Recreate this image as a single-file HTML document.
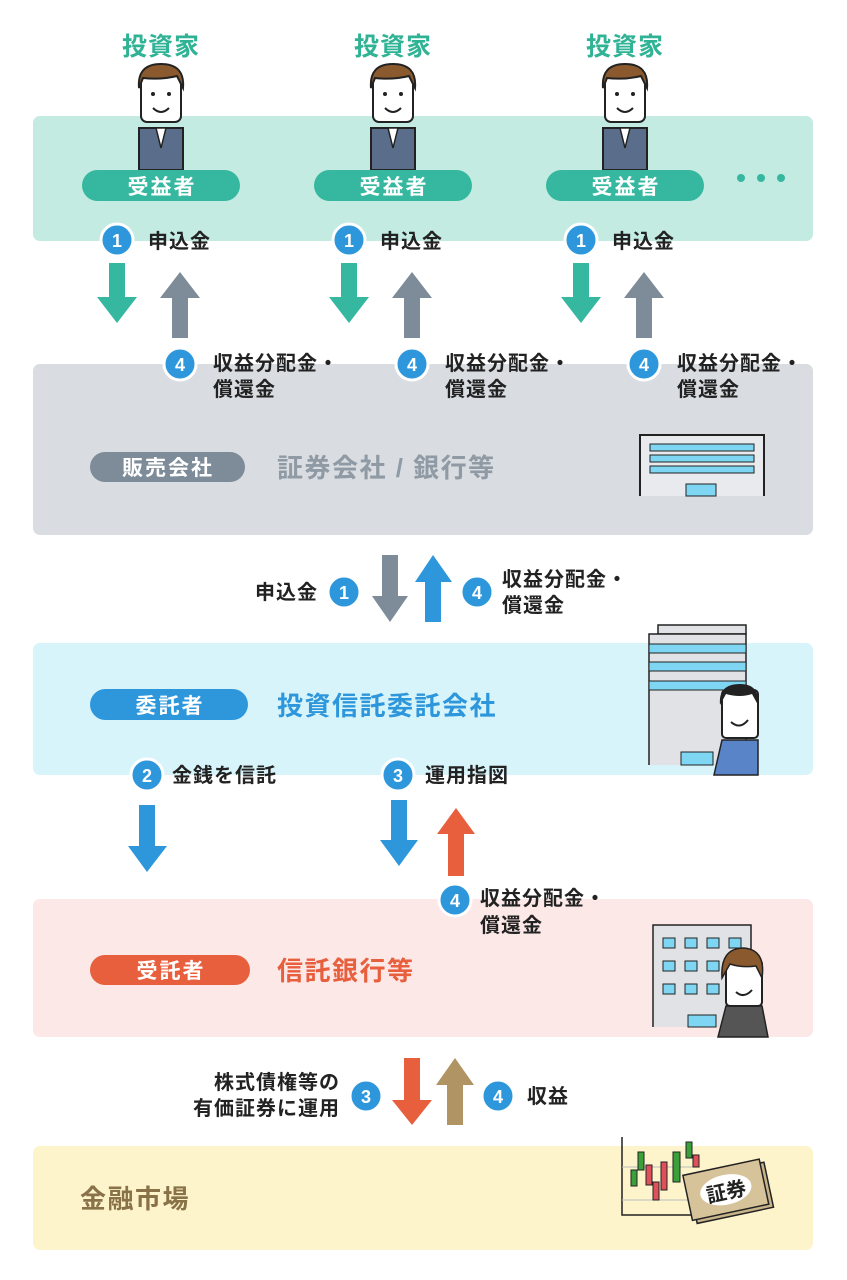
<!DOCTYPE html>
<html><head><meta charset="utf-8"><style>
html,body{margin:0;padding:0;background:#fff;}
svg{display:block;font-family:"Liberation Sans","Noto Sans CJK JP",sans-serif;font-weight:bold;}
.lb{font-size:20px;fill:#222;letter-spacing:1px;}
.big{font-size:26px;letter-spacing:1.5px;}
.hd{font-size:25px;letter-spacing:1px;}
.pill{font-size:21px;fill:#fff;letter-spacing:2px;}
</style></head><body>
<svg width="847" height="1280" viewBox="0 0 847 1280" xmlns="http://www.w3.org/2000/svg">
<defs>
<g id="c"><circle r="16" fill="#2e97dc" stroke="#fff" stroke-width="3"/></g>
<g id="person">
  <rect x="-22" y="58" width="44" height="42" fill="#5a6e8c" stroke="#222" stroke-width="2"/>
  <polygon points="-5,58 5,58 0,78" fill="#fff" stroke="#222" stroke-width="1.5"/>
  <rect x="-20" y="0" width="40" height="52" rx="6" fill="#fff" stroke="#222" stroke-width="2"/>
  <path d="M-22,18 Q-24,-6 0,-6 Q24,-6 22,18 L16,6 Q0,10 -18,8 Z" fill="#8a5a2e" stroke="#222" stroke-width="2"/>
  <circle cx="-8" cy="24" r="2" fill="#222"/><circle cx="8" cy="24" r="2" fill="#222"/>
  <path d="M-8,38 Q0,46 8,38" fill="none" stroke="#222" stroke-width="2"/>
</g>
</defs>

<g fill="#2fb394" class="hd" text-anchor="middle">
<text x="161" y="55">投資家</text><text x="393" y="55">投資家</text><text x="625" y="55">投資家</text>
</g>

<rect x="33" y="116" width="780" height="125" rx="7" fill="#c3ebe2"/>
<use href="#person" x="161" y="70"/>
<use href="#person" x="393" y="70"/>
<use href="#person" x="625" y="70"/>
<g fill="#35b89f">
<rect x="82" y="170" width="158" height="31" rx="15.5"/>
<rect x="314" y="170" width="158" height="31" rx="15.5"/>
<rect x="546" y="170" width="158" height="31" rx="15.5"/>
<circle cx="741" cy="178" r="4"/><circle cx="761" cy="178" r="4"/><circle cx="781" cy="178" r="4"/>
</g>
<g class="pill" text-anchor="middle">
<text x="162" y="194">受益者</text><text x="394" y="194">受益者</text><text x="626" y="194">受益者</text>
</g>

<g id="col">
<use href="#c" x="117" y="240"/>
<text x="117" y="247" fill="#fff" font-size="18" text-anchor="middle" font-family="Liberation Sans">1</text>
<text x="148" y="248" class="lb">申込金</text>
<path d="M109,263 H125 V297 H137 L117,323 L97,297 H109 Z" fill="#35b89f"/>
<path d="M172,338 V298 H160 L180,272 L200,298 H188 V338 Z" fill="#7d8c98"/>
</g>
<use href="#col" x="232"/>
<use href="#col" x="464"/>

<rect x="33" y="364" width="780" height="171" rx="7" fill="#d9dde1"/>
<g id="col4">
<use href="#c" x="180" y="364"/>
<text x="180" y="371" fill="#fff" font-size="18" text-anchor="middle" font-family="Liberation Sans">4</text>
<text x="213" y="370" class="lb">収益分配金・</text>
<text x="213" y="396" class="lb">償還金</text>
</g>
<use href="#col4" x="232"/>
<use href="#col4" x="464"/>

<rect x="90" y="452" width="155" height="30" rx="15" fill="#7d8c98"/>
<text x="168" y="475" class="pill" text-anchor="middle">販売会社</text>
<text x="277" y="477" fill="#8f9aa4" class="big">証券会社 / 銀行等</text>
<path d="M640,496 V435 H764 V496" fill="#e8eaed" stroke="#222" stroke-width="2"/>
<g fill="#7fd6f2" stroke="#222" stroke-width="1">
<rect x="650" y="444" width="104" height="7"/><rect x="650" y="455" width="104" height="7"/><rect x="650" y="466" width="104" height="7"/><rect x="686" y="484" width="30" height="12"/>
</g>

<text x="318" y="599" class="lb" text-anchor="end">申込金</text>
<use href="#c" x="344" y="592"/>
<text x="344" y="599" fill="#fff" font-size="18" text-anchor="middle" font-family="Liberation Sans">1</text>
<path d="M382,555 H398 V596 H408 L390,622 L372,596 H382 Z" fill="#7d8c98"/>
<path d="M425,622 V582 H415 L433,555 L452,582 H441 V622 Z" fill="#2e97dc"/>
<use href="#c" x="477" y="592"/>
<text x="477" y="599" fill="#fff" font-size="18" text-anchor="middle" font-family="Liberation Sans">4</text>
<text x="502" y="586" class="lb">収益分配金・</text>
<text x="502" y="612" class="lb">償還金</text>

<rect x="33" y="643" width="780" height="132" rx="7" fill="#d8f4fb"/>
<rect x="90" y="689" width="158" height="31" rx="15.5" fill="#2e97dc"/>
<text x="170" y="713" class="pill" text-anchor="middle">委託者</text>
<text x="277" y="715" fill="#2e97dc" class="big">投資信託委託会社</text>
<rect x="658" y="625" width="88" height="9" fill="#e0e2e5" stroke="#222" stroke-width="1.5"/>
<path d="M649,765 V634 H746 V765" fill="#e0e2e5" stroke="#222" stroke-width="1.5"/>
<g fill="#7fd6f2" stroke="#222" stroke-width="1">
<rect x="649" y="644" width="97" height="9"/><rect x="649" y="662" width="97" height="9"/><rect x="649" y="681" width="97" height="9"/><rect x="681" y="752" width="32" height="13"/>
</g>
<path d="M714,775 L722,740 H758 V775 Z" fill="#5a84c8" stroke="#222" stroke-width="1.5"/>
<rect x="722" y="690" width="36" height="48" rx="4" fill="#fff" stroke="#222" stroke-width="2"/>
<path d="M720,705 Q718,684 740,684 Q760,684 758,705 L752,694 Q740,698 726,694 Z" fill="#222"/>
<path d="M731,722 Q740,730 748,720" fill="none" stroke="#222" stroke-width="2"/>

<use href="#c" x="147" y="775"/>
<text x="147" y="782" fill="#fff" font-size="18" text-anchor="middle" font-family="Liberation Sans">2</text>
<text x="172" y="782" class="lb">金銭を信託</text>
<use href="#c" x="398" y="775"/>
<text x="398" y="782" fill="#fff" font-size="18" text-anchor="middle" font-family="Liberation Sans">3</text>
<text x="425" y="782" class="lb">運用指図</text>
<path d="M139,805 H155 V846 H167 L147,872 L128,846 H139 Z" fill="#2e97dc"/>
<path d="M391,800 H407 V840 H418 L399,866 L380,840 H391 Z" fill="#2e97dc"/>
<path d="M448,876 V834 H437 L456,808 L475,834 H464 V876 Z" fill="#e85f3e"/>

<rect x="33" y="899" width="780" height="138" rx="7" fill="#fde8e8"/>
<use href="#c" x="455" y="900"/>
<text x="455" y="907" fill="#fff" font-size="18" text-anchor="middle" font-family="Liberation Sans">4</text>
<text x="480" y="905" class="lb">収益分配金・</text>
<text x="480" y="932" class="lb">償還金</text>
<rect x="90" y="955" width="160" height="30" rx="15" fill="#e85f3e"/>
<text x="171" y="978" class="pill" text-anchor="middle">受託者</text>
<text x="277" y="980" fill="#e85f3e" class="big">信託銀行等</text>
<path d="M653,1027 V925 H751 V1027" fill="#e0e2e5" stroke="#222" stroke-width="1.5"/>
<g fill="#7fd6f2" stroke="#222" stroke-width="1">
<rect x="663" y="938" width="12" height="10"/><rect x="685" y="938" width="12" height="10"/><rect x="707" y="938" width="12" height="10"/><rect x="729" y="938" width="12" height="10"/>
<rect x="663" y="961" width="12" height="10"/><rect x="685" y="961" width="12" height="10"/><rect x="707" y="961" width="12" height="10"/>
<rect x="663" y="984" width="12" height="10"/><rect x="685" y="984" width="12" height="10"/><rect x="707" y="984" width="12" height="10"/>
<rect x="688" y="1015" width="28" height="12"/>
</g>
<path d="M718,1037 L726,1006 H762 L768,1037 Z" fill="#555" stroke="#222" stroke-width="1.5"/>
<rect x="726" y="960" width="36" height="46" rx="4" fill="#fff" stroke="#222" stroke-width="2"/>
<path d="M722,978 Q720,948 744,948 Q766,950 762,978 L756,966 Q742,968 730,964 Z" fill="#8a5a2e" stroke="#222" stroke-width="1.5"/>
<path d="M736,992 Q744,999 752,990" fill="none" stroke="#222" stroke-width="2"/>

<text x="340" y="1089" class="lb" text-anchor="end">株式債権等の</text>
<text x="340" y="1115" class="lb" text-anchor="end">有価証券に運用</text>
<use href="#c" x="366" y="1096"/>
<text x="366" y="1103" fill="#fff" font-size="18" text-anchor="middle" font-family="Liberation Sans">3</text>
<path d="M404,1058 H420 V1100 H432 L412,1125 L392,1100 H404 Z" fill="#e85f3e"/>
<path d="M447,1125 V1085 H436 L455,1058 L474,1085 H463 V1125 Z" fill="#b09463"/>
<use href="#c" x="498" y="1096"/>
<text x="498" y="1103" fill="#fff" font-size="18" text-anchor="middle" font-family="Liberation Sans">4</text>
<text x="527" y="1103" class="lb">収益</text>

<rect x="33" y="1146" width="780" height="104" rx="7" fill="#fdf4cc"/>
<text x="80" y="1208" fill="#8a7248" class="big">金融市場</text>
<path d="M622,1137 V1215 H700" fill="none" stroke="#222" stroke-width="1.5"/>
<line x1="622" y1="1167" x2="700" y2="1167" stroke="#bbb"/><line x1="622" y1="1200" x2="700" y2="1200" stroke="#bbb"/>
<g stroke="#222" stroke-width="1">
<rect x="631" y="1170" width="6" height="16" fill="#3aa13a"/><rect x="638" y="1152" width="6" height="18" fill="#3aa13a"/>
<rect x="646" y="1165" width="6" height="20" fill="#e0505a"/><rect x="653" y="1182" width="6" height="18" fill="#e0505a"/>
<rect x="661" y="1162" width="6" height="28" fill="#e0505a"/><rect x="673" y="1152" width="7" height="30" fill="#3aa13a"/>
<rect x="686" y="1142" width="6" height="16" fill="#3aa13a"/><rect x="693" y="1155" width="6" height="12" fill="#e0505a"/>
</g>
<g transform="rotate(-12 730 1195)">
<rect x="692" y="1170" width="78" height="46" fill="#c8b48a" stroke="#222" stroke-width="1.5"/>
<rect x="688" y="1166" width="78" height="46" fill="#d6c39a" stroke="#222" stroke-width="1.5"/>
<ellipse cx="727" cy="1189" rx="26" ry="15" fill="#fff"/>
<text x="727" y="1198" font-size="20" fill="#222" text-anchor="middle">証券</text>
</g>
</svg>
</body></html>
